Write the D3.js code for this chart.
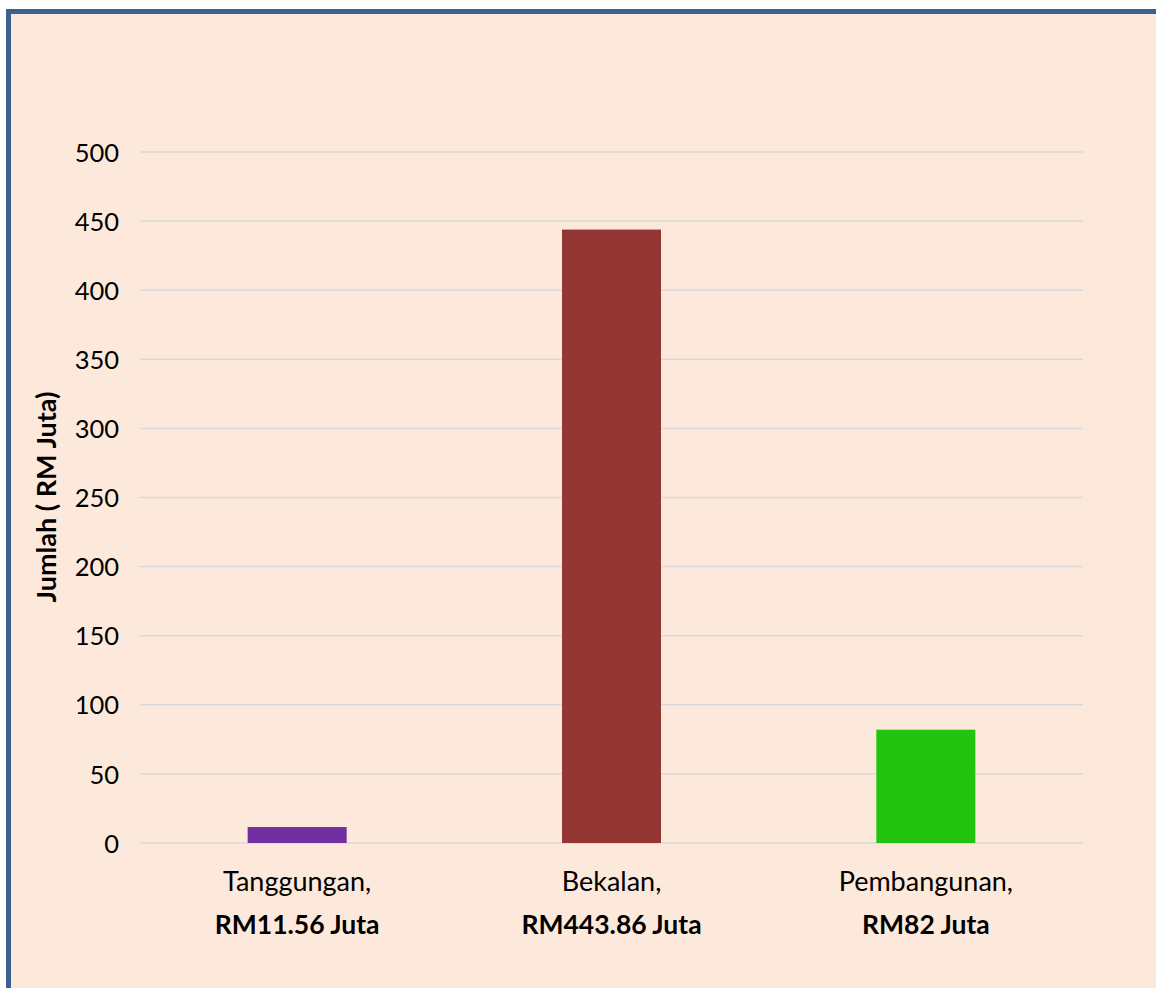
<!DOCTYPE html>
<html>
<head>
<meta charset="utf-8">
<script src="https://cdn.jsdelivr.net/npm/d3@7"></script>
<style>
html,body{margin:0;padding:0;background:#fff;}
svg{display:block;}
</style>
</head>
<body>
<script>
const categories = ["Tanggungan,", "Bekalan,", "Pembangunan,"];
const valueLabels = ["RM11.56 Juta", "RM443.86 Juta", "RM82 Juta"];
const values = [11.56, 443.86, 82];
const barColors = ["#7030A0", "#943634", "#22C40F"];
const yTicks = [0, 50, 100, 150, 200, 250, 300, 350, 400, 450, 500];
const yTitle = "Jumlah ( RM Juta)";

const W = 1156, H = 988;
const svg = d3.select("body").append("svg").attr("width", W).attr("height", H);
const font = "Lato, 'Open Sans', sans-serif";

// background and frame
svg.append("rect").attr("x", 6).attr("y", 9).attr("width", W - 6).attr("height", H - 9).attr("fill", "#FDE9DB");
svg.append("path")
  .attr("d", `M8.5,${H} L8.5,11.5 L${W},11.5`)
  .attr("fill", "none").attr("stroke", "#3B6190").attr("stroke-width", 5);

const x = d3.scaleBand().domain(categories).range([140, 1083]).paddingInner(0.685).paddingOuter(0.3425);
const y = d3.scaleLinear().domain([0, 500]).range([843, 152]);

// gridlines
svg.append("g").selectAll("line").data(yTicks).join("line")
  .attr("x1", 140).attr("x2", 1083)
  .attr("y1", d => y(d)).attr("y2", d => y(d))
  .attr("stroke", "#D9D9D9").attr("stroke-width", 1.5);

// y axis labels
const yAxis = d3.axisLeft(y).tickValues(yTicks).tickSize(0).tickPadding(0);
const gy = svg.append("g").attr("transform", "translate(119,0)").call(yAxis);
gy.select(".domain").remove();
gy.selectAll("text").attr("font-family", font).attr("font-size", 25.5).attr("fill", "#000").attr("dy", "0.36em");

// bars
svg.append("g").selectAll("rect").data(values).join("rect")
  .attr("x", (d, i) => x(categories[i]))
  .attr("width", x.bandwidth())
  .attr("y", d => y(d))
  .attr("height", d => y(0) - y(d))
  .attr("fill", (d, i) => barColors[i]);

// category labels
const lab = svg.append("g");
categories.forEach((c, i) => {
  const cx = x(c) + x.bandwidth() / 2;
  lab.append("text").attr("x", cx).attr("y", 891).attr("text-anchor", "middle")
    .attr("font-family", font).attr("font-size", 27).attr("fill", "#000").text(c);
  lab.append("text").attr("x", cx).attr("y", 934).attr("text-anchor", "middle")
    .attr("font-family", font).attr("font-size", 26.5).attr("font-weight", "bold").attr("fill", "#000").text(valueLabels[i]);
});

// y title
svg.append("text").attr("transform", "translate(56,497) rotate(-90)")
  .attr("text-anchor", "middle").attr("font-family", font).attr("font-size", 27)
  .attr("font-weight", "bold").attr("fill", "#000").text(yTitle);
</script>
</body>
</html>
